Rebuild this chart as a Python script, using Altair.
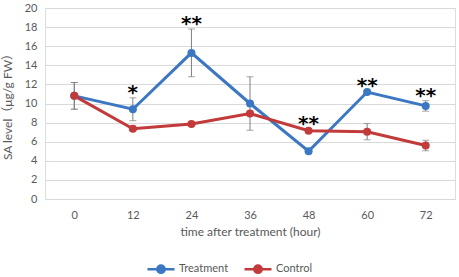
import altair as alt
import pandas as pd

hours = ["0", "12", "24", "36", "48", "60", "72"]
treatment = [10.8, 9.4, 15.3, 10.0, 5.0, 11.2, 9.75]
treatment_err = [1.4, 1.2, 2.5, 2.8, 0.1, 0.15, 0.55]
control = [10.8, 7.35, 7.85, 8.95, 7.15, 7.05, 5.6]
control_err = [1.4, 0.15, 0.15, 0.15, 0.2, 0.85, 0.55]
stars = ["", "*", "**", "", "**", "**", "**"]

series_names = ["Treatment", "Control"]
colors = ["#3b77c2", "#c23a3a"]

rows = []
for s, vals, errs in [("Treatment", treatment, treatment_err), ("Control", control, control_err)]:
    for h, v, e in zip(hours, vals, errs):
        rows.append({"hour": h, "series": s, "value": v, "lo": v - e, "hi": v + e})
df = pd.DataFrame(rows)

star_rows = []
for i, h in enumerate(hours):
    if stars[i]:
        top = max(treatment[i] + treatment_err[i], control[i] + control_err[i])
        star_rows.append({"hour": h, "top": top, "label": stars[i]})
sdf = pd.DataFrame(star_rows)

FONT = "Lato, Noto Sans CJK SC, sans-serif"

x_axis = alt.Axis(
    title="time after treatment (hour)",
    labelAngle=0,
    domain=True,
    domainColor="#d9d9d9",
    ticks=False,
    grid=False,
    labelPadding=10,
    titlePadding=6,
    labelFontSize=11,
    titleFontSize=12,
    labelColor="#595959",
    titleColor="#595959",
    titleFontWeight="normal",
    labelFont=FONT,
    titleFont=FONT,
)
x_scale = alt.Scale(type="point", padding=0.5)
y_scale = alt.Scale(domain=[0, 20], nice=False, zero=True)
y_axis = alt.Axis(
    title="SA level（μg/g FW）",
    values=list(range(0, 21, 2)),
    labelOverlap=False,
    domain=False,
    ticks=False,
    grid=True,
    gridColor="#d9d9d9",
    labelPadding=8,
    titlePadding=10,
    labelFontSize=11,
    titleFontSize=12,
    labelColor="#595959",
    titleColor="#595959",
    titleFontWeight="normal",
    labelFont=FONT,
    titleFont=FONT,
)


def X():
    return alt.X("hour:O", sort=hours, scale=x_scale, axis=x_axis)


def Y(field):
    return alt.Y(field, type="quantitative", scale=y_scale, axis=y_axis)


color_scale = alt.Scale(domain=series_names, range=colors)

legend = alt.Legend(
    orient="none",
    legendX=101,
    legendY=246,
    direction="horizontal",
    title=None,
    symbolType=(
        "M-1,0H1"
        "M0.27,0A0.27,0.27,0,1,1,-0.27,0A0.27,0.27,0,1,1,0.27,0Z"
        "M0.18,0A0.18,0.18,0,1,1,-0.18,0A0.18,0.18,0,1,1,0.18,0Z"
        "M0.09,0A0.09,0.09,0,1,1,-0.09,0A0.09,0.09,0,1,1,0.09,0Z"
    ),
    symbolSize=729,
    symbolStrokeWidth=2.5,
    labelOffset=3,
    columnPadding=10,
    labelFontSize=11,
    labelColor="#595959",
    labelFont=FONT,
)

base = alt.Chart(df)

lines = base.mark_line(strokeWidth=3).encode(
    x=X(),
    y=Y("value"),
    color=alt.Color("series:N", scale=color_scale, legend=legend, sort=series_names),
    order=alt.Order("hour_idx:Q"),
).transform_calculate(hour_idx="toNumber(datum.hour)")

points = base.mark_circle(size=64, opacity=1).encode(
    x=X(),
    y=Y("value"),
    color=alt.Color("series:N", scale=color_scale, legend=None),
)

err_rule = base.mark_rule(color="#7f7f7f", strokeWidth=1).encode(
    x=X(),
    y=Y("lo"),
    y2="hi:Q",
)
cap_lo = base.mark_tick(color="#7f7f7f", size=7, thickness=1).encode(
    x=X(),
    y=Y("lo"),
)
cap_hi = base.mark_tick(color="#7f7f7f", size=7, thickness=1).encode(
    x=X(),
    y=Y("hi"),
)

star_text = alt.Chart(sdf).mark_text(
    font="DejaVu Sans", fontSize=20, fontWeight="bold", color="#000000",
    baseline="alphabetic", dy=1,
).encode(
    x=X(),
    y=Y("top"),
    text="label:N",
)

chart = alt.layer(err_rule, cap_lo, cap_hi, lines, points, star_text).properties(
    width=410,
    height=191,
    autosize=alt.AutoSizeParams(type="none"),
    padding={"left": 45, "top": 8, "right": 4, "bottom": 78},
).configure_view(stroke=None).configure(background="white")

chart.save("out.html", embed_options={"renderer": "svg", "actions": False})
